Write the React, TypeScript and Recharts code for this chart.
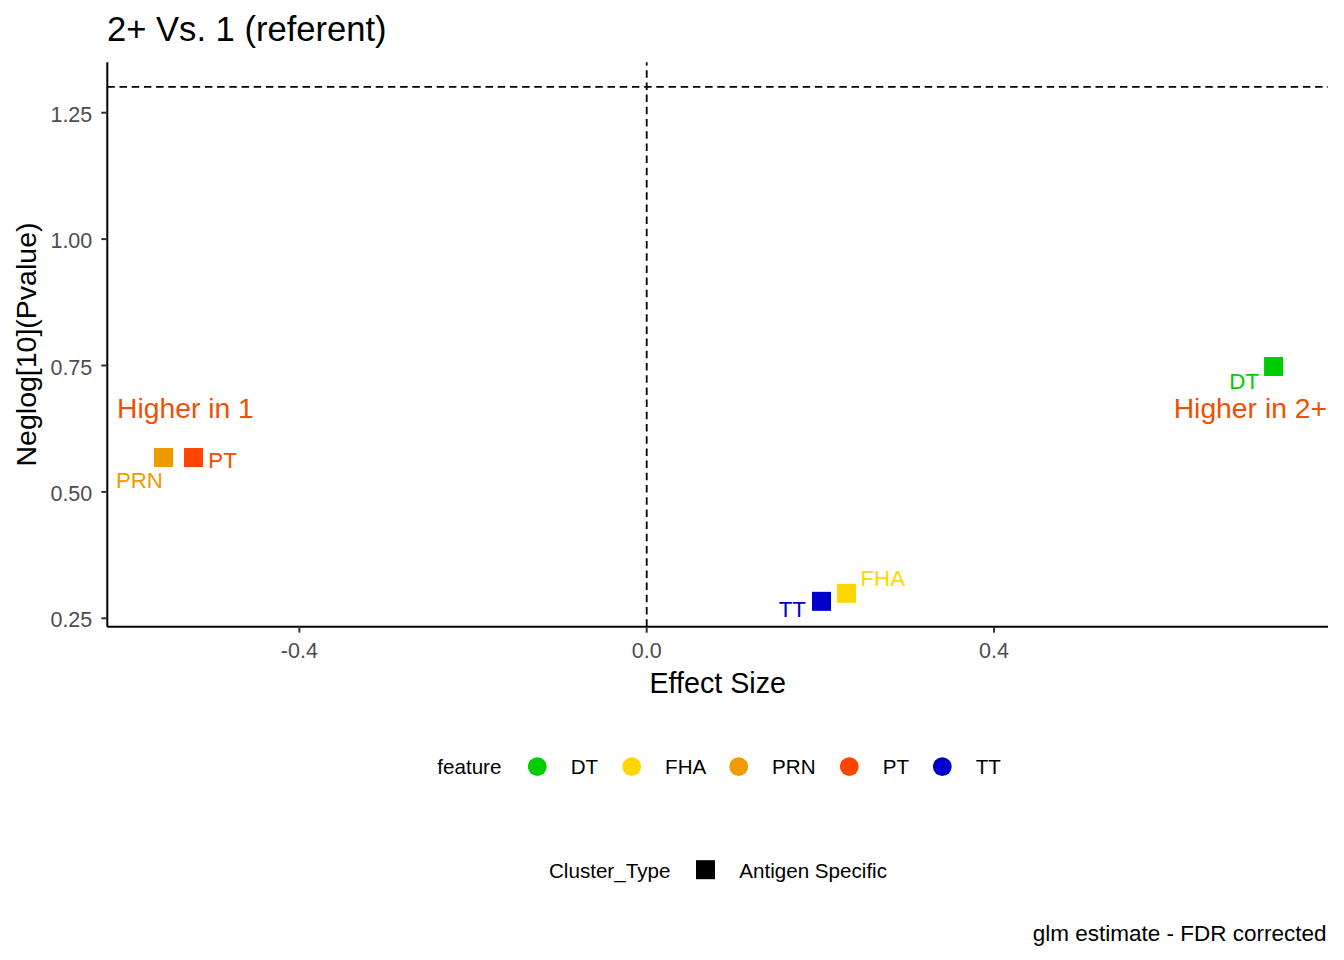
import React from 'react';
import {
  ScatterChart,
  Scatter,
  XAxis,
  YAxis,
  ReferenceLine,
  ReferenceDot,
  Customized,
} from 'recharts';

// ---------- data ----------
const features = ['DT', 'FHA', 'PRN', 'PT', 'TT'];
const effectSize = [0.7219, 0.2301, -0.5565, -0.5219, 0.2013];
const negLogP = [0.748, 0.2994, 0.568, 0.568, 0.2836];
const featureColors = ['#00CD00', '#FFD700', '#EE9A00', '#FF4500', '#0000CD'];
const clusterTypes = ['Antigen Specific'];
const xTicks = [-0.4, 0, 0.4];
const yTicks = [0.25, 0.5, 0.75, 1.0, 1.25];
const sigThreshold = 1.301;
const annotationTexts = ['Higher in 1', 'Higher in 2+'];
const annotationX = [-0.61, 0.7835];
const annotationY = [0.667, 0.667];

// ---------- layout / style ----------
const FONT = '"Liberation Sans", Arial, Helvetica, sans-serif';
const W = 1344;
const H = 960;
const X_DOMAIN: [number, number] = [-0.6212, 0.7846];
const Y_DOMAIN: [number, number] = [0.2334, 1.3497];
const SQUARE = 19;
const ANNOT_COLOR = '#F05000';
const annotationAnchor = ['start', 'end'];
const LEGEND_FS = 20.6;

const labelPlacement: Record<string, { dx: number; dy: number; anchor: string }> = {
  DT: { dx: -14.5, dy: 14, anchor: 'end' },
  FHA: { dx: 14, dy: -15, anchor: 'start' },
  PRN: { dx: -0.5, dy: 22, anchor: 'end' },
  PT: { dx: 14.8, dy: 2, anchor: 'start' },
  TT: { dx: -15.5, dy: 8, anchor: 'end' },
};

const legendKeyX = [537.3, 631.7, 738.7, 849.3, 942.3];

const points = features.map((f, i) => ({
  feature: f,
  x: effectSize[i],
  y: negLogP[i],
  color: featureColors[i],
}));

const SquareShape = (props: any) => {
  const { cx, cy, payload } = props;
  if (cx == null || cy == null) return null;
  const lp = labelPlacement[payload.feature];
  const fs = 22.3;
  return (
    <g>
      <rect
        x={cx - SQUARE / 2}
        y={cy - SQUARE / 2}
        width={SQUARE}
        height={SQUARE}
        fill={payload.color}
      />
      <text
        x={cx + lp.dx}
        y={cy + lp.dy + 0.358 * fs}
        textAnchor={lp.anchor as any}
        fontFamily={FONT}
        fontSize={fs}
        fill={payload.color}
      >
        {payload.feature}
      </text>
    </g>
  );
};

const makeAnnotShape = (i: number) => (p: any) => {
  const fs = 28.3;
  return (
    <text
      x={p.cx}
      y={p.cy + 0.358 * fs}
      textAnchor={annotationAnchor[i] as any}
      fontFamily={FONT}
      fontSize={fs}
      fill={ANNOT_COLOR}
    >
      {annotationTexts[i]}
    </text>
  );
};

const YTick = (props: any) => {
  const { x, y, payload } = props;
  return (
    <text
      x={x}
      y={y + 0.355 * 21.5 + 1.5}
      textAnchor="end"
      fontFamily={FONT}
      fontSize={21.5}
      fill="#4D4D4D"
    >
      {Number(payload.value).toFixed(2)}
    </text>
  );
};

const Overlay = () => (
  <g fontFamily={FONT}>
    {/* title */}
    <text x={107} y={40.7} fontSize={34.6} fill="#000">
      2+ Vs. 1 (referent)
    </text>
    {/* axis titles */}
    <text x={717.7} y={693} fontSize={28.7} textAnchor="middle" fill="#000">
      Effect Size
    </text>
    <text
      x={36}
      y={344.5}
      fontSize={28.5}
      textAnchor="middle"
      fill="#000"
      transform="rotate(-90 36 344.5)"
    >
      Neglog[10](Pvalue)
    </text>
    {/* feature legend */}
    <text x={437.3} y={774.3} fontSize={LEGEND_FS} fill="#000">
      feature
    </text>
    {features.map((f, i) => (
      <g key={f}>
        <circle cx={legendKeyX[i]} cy={766.7} r={9.4} fill={featureColors[i]} />
        <text x={legendKeyX[i] + 33.4} y={774.3} fontSize={LEGEND_FS} fill="#000">
          {f}
        </text>
      </g>
    ))}
    {/* cluster type legend */}
    <text x={549} y={878.3} fontSize={LEGEND_FS} fill="#000">
      Cluster_Type
    </text>
    {clusterTypes.map((c) => (
      <g key={c}>
        <rect x={696} y={860.2} width={SQUARE} height={SQUARE} fill="#000" />
        <text x={739.3} y={878.3} fontSize={LEGEND_FS} fill="#000">
          {c}
        </text>
      </g>
    ))}
    {/* caption */}
    <text x={1326.5} y={940.7} fontSize={22.5} textAnchor="end" fill="#000">
      glm estimate - FDR corrected
    </text>
  </g>
);

export default function App() {
  return (
    <div
      style={{
        position: 'absolute',
        left: 0,
        top: 0,
        width: W,
        height: H,
        background: '#fff',
      }}
    >
      <ScatterChart
        width={W}
        height={H}
        margin={{ top: 62.3, right: 16, bottom: 960 - 626.7 - 40, left: 107.3 - 60 }}
      >
        <XAxis
          type="number"
          dataKey="x"
          domain={X_DOMAIN}
          allowDataOverflow
          ticks={xTicks}
          tickFormatter={(v: number) => v.toFixed(1)}
          height={40}
          tickSize={6}
          tickMargin={9.7}
          axisLine={{ stroke: '#000', strokeWidth: 2 }}
          tickLine={{ stroke: '#333333', strokeWidth: 2 }}
          tick={{ fill: '#4D4D4D', fontSize: 21.5, fontFamily: FONT }}
        />
        <YAxis
          type="number"
          dataKey="y"
          domain={Y_DOMAIN}
          allowDataOverflow
          ticks={yTicks}
          width={60}
          tickSize={6}
          tickMargin={9}
          axisLine={{ stroke: '#000', strokeWidth: 2 }}
          tickLine={{ stroke: '#333333', strokeWidth: 2 }}
          tick={<YTick />}
        />
        <ReferenceLine
          y={sigThreshold}
          stroke="#000"
          strokeWidth={1.8}
          strokeDasharray="7.5 4.7"
        />
        <ReferenceLine x={0} stroke="#000" strokeWidth={1.8} strokeDasharray="7.5 4.7" />
        {annotationTexts.map((t, i) => (
          <ReferenceDot
            key={t}
            x={annotationX[i]}
            y={annotationY[i]}
            r={0}
            shape={makeAnnotShape(i)}
          />
        ))}
        <Scatter
          data={points}
          dataKey="y"
          isAnimationActive={false}
          shape={SquareShape}
        />
        <Customized component={Overlay} />
      </ScatterChart>
    </div>
  );
}
